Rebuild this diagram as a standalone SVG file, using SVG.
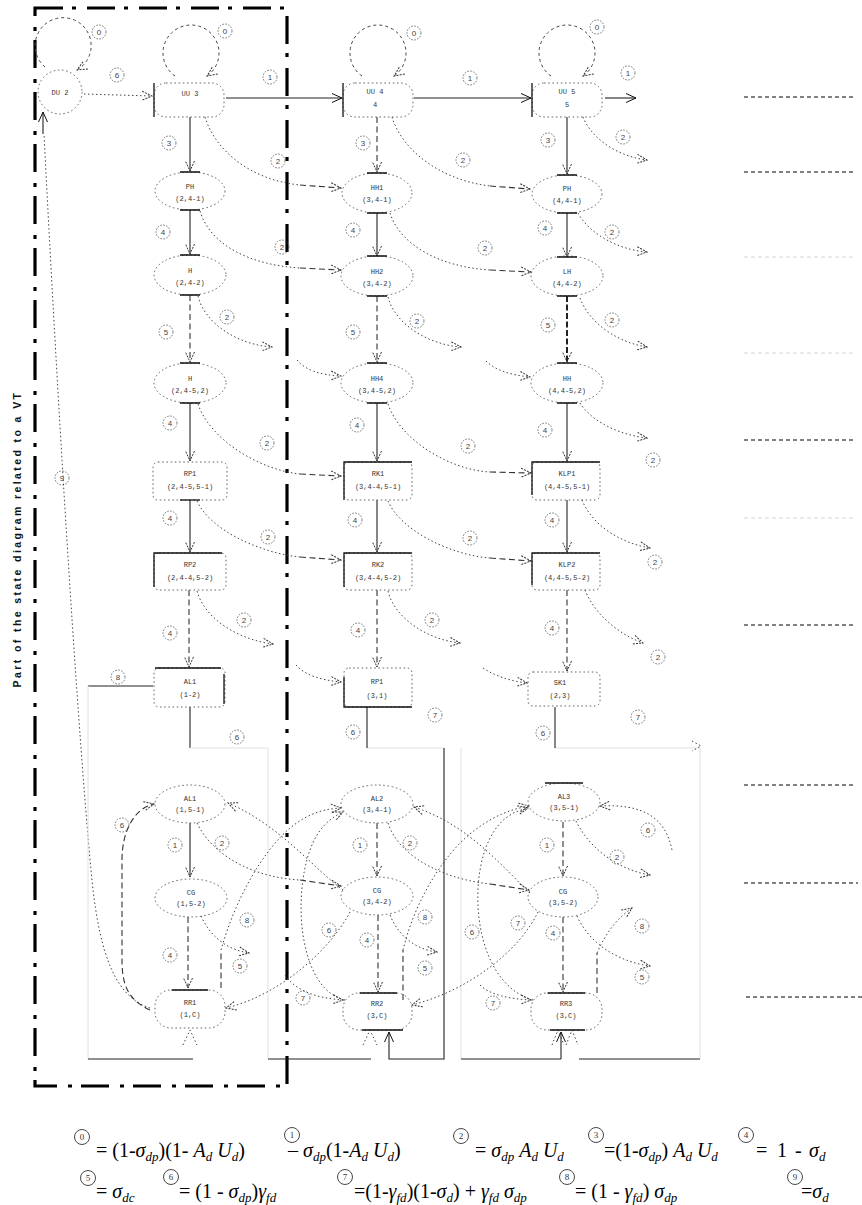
<svg xmlns="http://www.w3.org/2000/svg" width="862" height="1205" viewBox="0 0 862 1205">
<defs>
<style>
.nd{fill:none;stroke:#555;stroke-width:0.9;stroke-dasharray:1.6 2.6}
.bar{fill:none;stroke:#111;stroke-width:1.3}
.nt{font-family:"Liberation Mono",monospace;font-size:7px;fill:#333;text-anchor:middle}
.sl{fill:none;stroke:#222;stroke-width:1.1}
.dt{fill:none;stroke:#444;stroke-width:1;stroke-dasharray:1.5 2.5}
.ds{fill:none;stroke:#333;stroke-width:1.1;stroke-dasharray:6 3.5}
.dh{fill:none;stroke:#222;stroke-width:2;stroke-dasharray:6 2.5}
.dl{fill:none;stroke:#444;stroke-width:1;stroke-dasharray:3 3}
.gr{fill:none;stroke:#e0e0e0;stroke-width:1}
.lb circle{fill:none;stroke:#555;stroke-width:0.8;stroke-dasharray:1.6 1.4}
.lb text{font-family:"Liberation Sans",sans-serif;font-size:8px;fill:#444;text-anchor:middle}
.box{fill:none;stroke:#000;stroke-width:3.2;stroke-dasharray:28 9 4 11}
.rl{fill:none;stroke:#000;stroke-width:1;stroke-dasharray:4 3}
.rlg{fill:none;stroke:#d4d4d4;stroke-width:1;stroke-dasharray:4 3}
.vt{font-family:"Liberation Sans",sans-serif;font-weight:bold;font-size:10.5px;letter-spacing:2.4px;fill:#111;text-anchor:middle}
.fm{font-family:"Liberation Serif",serif;font-size:20px;fill:#000}
.it{font-style:italic}
.sb{font-size:13px;font-style:italic}
.fc circle{fill:none;stroke:#333;stroke-width:0.9}
.fc text{font-family:"Liberation Serif",serif;font-size:9px;fill:#333;text-anchor:middle}
</style>
<marker id="ad" viewBox="0 0 12 12" refX="11" refY="6" markerWidth="12" markerHeight="12" markerUnits="userSpaceOnUse" orient="auto"><path d="M1,1.5 L11,6 L1,10.5" fill="none" stroke="#333" stroke-width="1" stroke-dasharray="2 1.2"/></marker>
<marker id="as" viewBox="0 0 12 12" refX="11" refY="6" markerWidth="12" markerHeight="12" markerUnits="userSpaceOnUse" orient="auto"><path d="M1,1.5 L11,6 L1,10.5" fill="none" stroke="#111" stroke-width="1"/></marker>
</defs>
<rect width="862" height="1205" fill="#fff"/>

<!-- dash-dot boundary and vertical title -->
<g id="vt-region">
<rect class="box" x="35" y="8" width="252" height="1078"/>
<text class="vt" transform="translate(21,539) rotate(-90)">Part of the state diagram related to a VT</text>
</g>

<!-- right-side dashed rules -->
<g id="rules">
<path class="rl" d="M744,97 H855 M744,172 H855 M744,440 H855 M744,625 H855 M744,785 H855 M744,883 H858 M746,997 H862"/>
<path class="rlg" d="M744,257 H855 M744,353 H855 M744,518 H855"/>
</g>

<!-- connectors -->
<g id="connectors">
<!-- top row -->
<path class="dl" d="M45,67 A28,28 0 1,1 77,70" marker-end="url(#ad)"/>
<path class="dt" d="M84,94 L152,96" marker-end="url(#ad)"/>
<path class="dl" d="M175,76 A28,28 0 1,1 207,76" marker-end="url(#ad)"/>
<path class="dl" d="M362,76 A28,28 0 1,1 394,76" marker-end="url(#ad)"/>
<path class="dl" d="M551,76 A28,28 0 1,1 583,76" marker-end="url(#ad)"/>
<path class="sl" d="M226,98 H342" marker-end="url(#as)"/>
<path class="sl" d="M414,98 H531" marker-end="url(#as)"/>
<path class="sl" d="M605,98 H636" marker-end="url(#as)"/>
<!-- long return curve to DU 2 -->
<path class="dt" d="M150,1008 C118,998 100,960 92,880 C80,760 60,450 44,134"/>
<path class="sl" d="M43,134 L43,112" marker-end="url(#as)"/>

<!-- left column verticals -->
<path class="sl" d="M190,117 V171" marker-end="url(#ad)"/>
<path class="sl" d="M190,210 V254" marker-end="url(#ad)"/>
<path class="ds" d="M190,295 V362" marker-end="url(#ad)"/>
<path class="sl" d="M190,403 V461" marker-end="url(#ad)"/>
<path class="sl" d="M190,500 V552" marker-end="url(#ad)"/>
<path class="ds" d="M189,590 V667" marker-end="url(#ad)"/>
<!-- middle column verticals -->
<path class="ds" d="M377,117 V172" marker-end="url(#ad)"/>
<path class="sl" d="M377,213 V256" marker-end="url(#ad)"/>
<path class="ds" d="M377,296 V362" marker-end="url(#ad)"/>
<path class="sl" d="M377,403 V461" marker-end="url(#ad)"/>
<path class="sl" d="M377,500 V552" marker-end="url(#ad)"/>
<path class="ds" d="M377,590 V667" marker-end="url(#ad)"/>
<!-- right column verticals -->
<path class="sl" d="M567,117 V174" marker-end="url(#ad)"/>
<path class="sl" d="M567,213 V257" marker-end="url(#ad)"/>
<path class="dh" d="M567,296 V362" marker-end="url(#ad)"/>
<path class="sl" d="M567,403 V461" marker-end="url(#ad)"/>
<path class="sl" d="M567,500 V552" marker-end="url(#ad)"/>
<path class="ds" d="M567,590 V671" marker-end="url(#ad)"/>

<!-- left to middle diagonals -->
<path class="dt" d="M205,117 C215,150 250,180 300,185"/><path class="ds" d="M300,185 L341,188" marker-end="url(#ad)"/>
<path class="dt" d="M200,211 C210,245 250,265 300,268"/><path class="ds" d="M300,268 L341,270" marker-end="url(#ad)"/>
<path class="dt" d="M198,296 C205,325 240,345 272,347" marker-end="url(#ad)"/>
<path class="dt" d="M297,360 C305,370 320,375 341,376" marker-end="url(#ad)"/>
<path class="dt" d="M198,404 C210,440 260,470 300,474"/><path class="ds" d="M300,474 L341,476" marker-end="url(#ad)"/>
<path class="dt" d="M197,501 C210,530 260,553 300,557"/><path class="ds" d="M300,557 L341,560" marker-end="url(#ad)"/>
<path class="dt" d="M197,591 C205,620 240,640 273,644" marker-end="url(#ad)"/>
<path class="dt" d="M296,665 C305,675 320,680 341,682" marker-end="url(#ad)"/>
<!-- middle to right diagonals -->
<path class="dt" d="M392,117 C402,150 440,180 490,186"/><path class="ds" d="M490,186 L530,189" marker-end="url(#ad)"/>
<path class="dt" d="M390,213 C400,245 440,267 490,270"/><path class="ds" d="M490,270 L531,272" marker-end="url(#ad)"/>
<path class="dt" d="M388,297 C395,325 430,345 461,347" marker-end="url(#ad)"/>
<path class="dt" d="M486,361 C495,370 510,375 530,377" marker-end="url(#ad)"/>
<path class="dt" d="M388,404 C400,440 450,470 490,472"/><path class="ds" d="M490,472 L531,473" marker-end="url(#ad)"/>
<path class="dt" d="M388,501 C400,530 450,555 490,558"/><path class="ds" d="M490,558 L531,561" marker-end="url(#ad)"/>
<path class="dt" d="M388,591 C395,620 430,640 460,643" marker-end="url(#ad)"/>
<path class="dt" d="M483,668 C495,676 510,681 527,683" marker-end="url(#ad)"/>
<!-- right column outgoing -->
<path class="dt" d="M583,117 C592,140 620,157 647,160" marker-end="url(#ad)"/>
<path class="dt" d="M578,213 C590,235 620,250 647,252" marker-end="url(#ad)"/>
<path class="dt" d="M580,298 C590,325 620,343 647,347" marker-end="url(#ad)"/>
<path class="dt" d="M580,403 C592,422 620,435 647,438" marker-end="url(#ad)"/>
<path class="dt" d="M582,500 C592,525 620,543 650,548" marker-end="url(#ad)"/>
<path class="dt" d="M585,590 C595,615 620,635 643,643" marker-end="url(#ad)"/>

<!-- row 7 exits and bottom frame lines -->
<path class="sl" d="M88,686 H153"/>
<path class="sl" d="M190,707 V748"/>
<path class="gr" d="M190,748 H268 M88,686 V1059 M268,748 V1059 M367,748 H444 M461,748 V1059 M555,748 H700 M700,748 V1059"/>
<path class="sl" d="M367,707 V748"/>
<path class="sl" d="M444,748 V1059 H389 V1032" marker-end="url(#as)"/>
<path class="sl" d="M555,707 V748"/>
<path class="dt" d="M692,741 L701,746 L692,751"/>
<path class="sl" d="M88,1059 H193 M268,1059 H371 M461,1059 H561 M579,1059 H700"/>
<path class="sl" d="M561,1059 V1032" marker-end="url(#as)"/>
<path class="dt" d="M183,1045 L190,1030 L197,1045 M363,1045 L370,1030 L377,1045 M552,1045 L558,1030 L564,1045 M566,1045 L572,1030 L578,1045"/>

<!-- bottom section: left column -->
<path class="sl" d="M190,823 V877" marker-end="url(#ad)"/>
<path class="ds" d="M188,917 V988" marker-end="url(#ad)"/>
<path class="ds" d="M150,1010 C128,1000 122,985 122,960 L122,860 C122,830 135,808 154,804" marker-end="url(#ad)"/>
<path class="dt" d="M197,823 C215,860 260,878 300,880"/><path class="ds" d="M300,880 L341,886" marker-end="url(#ad)"/>
<path class="dt" d="M201,916 C212,940 230,950 249,953" marker-end="url(#ad)"/>
<path class="ds" d="M221,988 V950"/><path class="dt" d="M221,950 C235,900 262,852 290,828 C310,812 325,809 341,808" marker-end="url(#ad)"/>
<path class="dt" d="M343,890 C315,870 280,825 228,803" marker-end="url(#ad)"/>
<path class="dt" d="M350,912 C330,950 280,995 226,1008" marker-end="url(#ad)"/>
<!-- bottom section: middle column -->
<path class="ds" d="M377,823 V876" marker-end="url(#ad)"/>
<path class="ds" d="M378,915 V992" marker-end="url(#ad)"/>
<path class="dt" d="M345,1000 C300,990 292,900 310,850 C318,828 330,818 343,812" marker-end="url(#ad)"/>
<path class="dt" d="M285,975 C295,990 315,998 343,1000" marker-end="url(#ad)"/>
<path class="dt" d="M388,823 C400,860 450,880 490,884"/><path class="ds" d="M490,884 L529,890" marker-end="url(#ad)"/>
<path class="dt" d="M390,915 C400,940 420,950 437,952" marker-end="url(#ad)"/>
<path class="ds" d="M403,1000 V950"/><path class="dt" d="M403,950 C415,900 445,852 475,830 C495,815 512,809 529,806" marker-end="url(#ad)"/>
<path class="dt" d="M530,893 C505,870 470,825 414,807" marker-end="url(#ad)"/>
<path class="dt" d="M538,912 C520,950 470,990 412,1005" marker-end="url(#ad)"/>
<!-- bottom section: right column -->
<path class="ds" d="M563,822 V876" marker-end="url(#ad)"/>
<path class="ds" d="M563,917 V992" marker-end="url(#ad)"/>
<path class="dt" d="M533,1000 C480,985 468,900 485,850 C495,822 510,812 528,808" marker-end="url(#ad)"/>
<path class="dt" d="M480,985 C490,995 510,999 531,1000" marker-end="url(#ad)"/>
<path class="dt" d="M576,821 C590,850 620,870 650,875" marker-end="url(#ad)"/>
<path class="dt" d="M672,850 C665,815 640,804 600,806" marker-end="url(#ad)"/>
<path class="dt" d="M577,916 C590,945 620,962 650,966" marker-end="url(#ad)"/>
<path class="ds" d="M597,993 V953"/><path class="dt" d="M597,953 C605,935 615,920 632,908" marker-end="url(#ad)"/>

<!-- labels -->
<g class="lb" transform="translate(99,32)"><circle r="7"/><text y="3">0</text></g>
<g class="lb" transform="translate(117,75)"><circle r="7"/><text y="3">6</text></g>
<g class="lb" transform="translate(225,31)"><circle r="7"/><text y="3">0</text></g>
<g class="lb" transform="translate(414,33)"><circle r="7"/><text y="3">0</text></g>
<g class="lb" transform="translate(597,27)"><circle r="7"/><text y="3">0</text></g>
<g class="lb" transform="translate(270,77)"><circle r="7"/><text y="3">1</text></g>
<g class="lb" transform="translate(470,78)"><circle r="7"/><text y="3">1</text></g>
<g class="lb" transform="translate(628,73)"><circle r="7"/><text y="3">1</text></g>
<g class="lb" transform="translate(62,478)"><circle r="7"/><text y="3">9</text></g>

<g class="lb" transform="translate(169,143)"><circle r="7"/><text y="3">3</text></g>
<g class="lb" transform="translate(163,232)"><circle r="7"/><text y="3">4</text></g>
<g class="lb" transform="translate(166,332)"><circle r="7"/><text y="3">5</text></g>
<g class="lb" transform="translate(170,423)"><circle r="7"/><text y="3">4</text></g>
<g class="lb" transform="translate(170,518)"><circle r="7"/><text y="3">4</text></g>
<g class="lb" transform="translate(170,633)"><circle r="7"/><text y="3">4</text></g>

<g class="lb" transform="translate(363,143)"><circle r="7"/><text y="3">3</text></g>
<g class="lb" transform="translate(353,230)"><circle r="7"/><text y="3">4</text></g>
<g class="lb" transform="translate(353,332)"><circle r="7"/><text y="3">5</text></g>
<g class="lb" transform="translate(357,425)"><circle r="7"/><text y="3">4</text></g>
<g class="lb" transform="translate(355,520)"><circle r="7"/><text y="3">4</text></g>
<g class="lb" transform="translate(358,630)"><circle r="7"/><text y="3">4</text></g>

<g class="lb" transform="translate(548,140)"><circle r="7"/><text y="3">3</text></g>
<g class="lb" transform="translate(545,228)"><circle r="7"/><text y="3">4</text></g>
<g class="lb" transform="translate(548,325)"><circle r="7"/><text y="3">5</text></g>
<g class="lb" transform="translate(545,430)"><circle r="7"/><text y="3">4</text></g>
<g class="lb" transform="translate(552,520)"><circle r="7"/><text y="3">4</text></g>
<g class="lb" transform="translate(552,628)"><circle r="7"/><text y="3">4</text></g>

<g class="lb" transform="translate(278,161)"><circle r="7"/><text y="3">2</text></g>
<g class="lb" transform="translate(282,247)"><circle r="7"/><text y="3">2</text></g>
<g class="lb" transform="translate(227,317)"><circle r="7"/><text y="3">2</text></g>
<g class="lb" transform="translate(267,443)"><circle r="7"/><text y="3">2</text></g>
<g class="lb" transform="translate(268,537)"><circle r="7"/><text y="3">2</text></g>
<g class="lb" transform="translate(244,620)"><circle r="7"/><text y="3">2</text></g>
<g class="lb" transform="translate(463,160)"><circle r="7"/><text y="3">2</text></g>
<g class="lb" transform="translate(485,248)"><circle r="7"/><text y="3">2</text></g>
<g class="lb" transform="translate(417,321)"><circle r="7"/><text y="3">2</text></g>
<g class="lb" transform="translate(468,446)"><circle r="7"/><text y="3">2</text></g>
<g class="lb" transform="translate(470,538)"><circle r="7"/><text y="3">2</text></g>
<g class="lb" transform="translate(432,620)"><circle r="7"/><text y="3">2</text></g>
<g class="lb" transform="translate(623,137)"><circle r="7"/><text y="3">2</text></g>
<g class="lb" transform="translate(612,232)"><circle r="7"/><text y="3">2</text></g>
<g class="lb" transform="translate(612,320)"><circle r="7"/><text y="3">2</text></g>
<g class="lb" transform="translate(653,460)"><circle r="7"/><text y="3">2</text></g>
<g class="lb" transform="translate(655,562)"><circle r="7"/><text y="3">2</text></g>
<g class="lb" transform="translate(658,657)"><circle r="7"/><text y="3">2</text></g>

<g class="lb" transform="translate(118,677)"><circle r="7"/><text y="3">8</text></g>
<g class="lb" transform="translate(237,737)"><circle r="7"/><text y="3">6</text></g>
<g class="lb" transform="translate(353,732)"><circle r="7"/><text y="3">6</text></g>
<g class="lb" transform="translate(435,715)"><circle r="7"/><text y="3">7</text></g>
<g class="lb" transform="translate(543,733)"><circle r="7"/><text y="3">6</text></g>
<g class="lb" transform="translate(638,717)"><circle r="7"/><text y="3">7</text></g>

<g class="lb" transform="translate(122,825)"><circle r="7"/><text y="3">6</text></g>
<g class="lb" transform="translate(175,845)"><circle r="7"/><text y="3">1</text></g>
<g class="lb" transform="translate(222,843)"><circle r="7"/><text y="3">2</text></g>
<g class="lb" transform="translate(247,920)"><circle r="7"/><text y="3">8</text></g>
<g class="lb" transform="translate(240,966)"><circle r="7"/><text y="3">5</text></g>
<g class="lb" transform="translate(170,955)"><circle r="7"/><text y="3">4</text></g>
<g class="lb" transform="translate(360,845)"><circle r="7"/><text y="3">1</text></g>
<g class="lb" transform="translate(410,843)"><circle r="7"/><text y="3">2</text></g>
<g class="lb" transform="translate(329,930)"><circle r="7"/><text y="3">6</text></g>
<g class="lb" transform="translate(367,940)"><circle r="7"/><text y="3">4</text></g>
<g class="lb" transform="translate(425,917)"><circle r="7"/><text y="3">8</text></g>
<g class="lb" transform="translate(425,968)"><circle r="7"/><text y="3">5</text></g>
<g class="lb" transform="translate(303,998)"><circle r="7"/><text y="3">7</text></g>
<g class="lb" transform="translate(547,845)"><circle r="7"/><text y="3">1</text></g>
<g class="lb" transform="translate(472,932)"><circle r="7"/><text y="3">6</text></g>
<g class="lb" transform="translate(518,923)"><circle r="7"/><text y="3">7</text></g>
<g class="lb" transform="translate(553,933)"><circle r="7"/><text y="3">4</text></g>
<g class="lb" transform="translate(493,1003)"><circle r="7"/><text y="3">7</text></g>
<g class="lb" transform="translate(617,857)"><circle r="7"/><text y="3">2</text></g>
<g class="lb" transform="translate(648,830)"><circle r="7"/><text y="3">6</text></g>
<g class="lb" transform="translate(642,926)"><circle r="7"/><text y="3">8</text></g>
<g class="lb" transform="translate(642,977)"><circle r="7"/><text y="3">5</text></g>
</g>

<!-- nodes: top row -->
<g id="n-du2"><circle class="nd" cx="60" cy="92" r="22"/><text class="nt" x="60" y="95">DU 2</text></g>
<g id="n-uu3"><rect class="nd" x="154" y="83" width="70" height="34" rx="12"/><path class="bar" d="M154,83 V117"/><text class="nt" x="190" y="96">UU 3</text></g>
<g id="n-uu4"><rect class="nd" x="343" y="83" width="70" height="34" rx="12"/><path class="bar" d="M343,83 V117"/><text class="nt" x="375" y="94">UU 4</text><text class="nt" x="375" y="107">4</text></g>
<g id="n-uu5"><rect class="nd" x="532" y="83" width="70" height="34" rx="12"/><path class="bar" d="M532,83 V117"/><text class="nt" x="567" y="94">UU 5</text><text class="nt" x="567" y="107">5</text></g>

<!-- row 2 -->
<g id="n-r2l"><ellipse class="nd" cx="190" cy="191" rx="35" ry="19"/><path class="bar" d="M180,172 H200 M180,210 H200"/><text class="nt" x="190" y="189">PH</text><text class="nt" x="190" y="201">(2,4-1)</text></g>
<g id="n-r2m"><ellipse class="nd" cx="377" cy="193" rx="35" ry="20"/><path class="bar" d="M367,173 H387 M367,213 H387"/><text class="nt" x="377" y="190">HH1</text><text class="nt" x="377" y="202">(3,4-1)</text></g>
<g id="n-r2r"><ellipse class="nd" cx="567" cy="194" rx="35" ry="19"/><path class="bar" d="M557,175 H577 M557,213 H577"/><text class="nt" x="567" y="191">PH</text><text class="nt" x="567" y="203">(4,4-1)</text></g>
<!-- row 3 -->
<g id="n-r3l"><ellipse class="nd" cx="190" cy="275" rx="36" ry="20"/><path class="bar" d="M180,255 H200 M180,295 H200"/><text class="nt" x="190" y="273">H</text><text class="nt" x="190" y="285">(2,4-2)</text></g>
<g id="n-r3m"><ellipse class="nd" cx="377" cy="276" rx="36" ry="20"/><path class="bar" d="M367,256 H387 M367,296 H387"/><text class="nt" x="377" y="274">HH2</text><text class="nt" x="377" y="286">(3,4-2)</text></g>
<g id="n-r3r"><ellipse class="nd" cx="567" cy="276" rx="36" ry="20"/><path class="bar" d="M557,257 H577 M557,296 H577"/><text class="nt" x="567" y="274">LH</text><text class="nt" x="567" y="286">(4,4-2)</text></g>
<!-- row 4 -->
<g id="n-r4l"><ellipse class="nd" cx="190" cy="383" rx="36" ry="20"/><path class="bar" d="M180,363 H200 M180,403 H200"/><text class="nt" x="190" y="381">H</text><text class="nt" x="190" y="393">(2,4-5,2)</text></g>
<g id="n-r4m"><ellipse class="nd" cx="377" cy="383" rx="36" ry="20"/><path class="bar" d="M367,363 H387 M367,403 H387"/><text class="nt" x="377" y="381">HH4</text><text class="nt" x="377" y="393">(3,4-5,2)</text></g>
<g id="n-r4r"><ellipse class="nd" cx="567" cy="383" rx="36" ry="20"/><path class="bar" d="M557,363 H577 M557,403 H577"/><text class="nt" x="567" y="381">HH</text><text class="nt" x="567" y="393">(4,4-5,2)</text></g>
<!-- row 5 -->
<g id="n-r5l"><rect class="nd" x="153" y="462" width="74" height="38" rx="5"/><path class="bar" d="M180,500 H200"/><text class="nt" x="190" y="476">RP1</text><text class="nt" x="190" y="489">(2,4-5,5-1)</text></g>
<g id="n-r5m"><rect class="nd" x="344" y="462" width="68" height="38" rx="5"/><path class="bar" d="M344,500 V462 H412"/><text class="nt" x="378" y="476">RK1</text><text class="nt" x="378" y="489">(3,4-4,5-1)</text></g>
<g id="n-r5r"><rect class="nd" x="532" y="462" width="68" height="38" rx="5"/><path class="bar" d="M532,495 V462 H600"/><text class="nt" x="567" y="476">KLP1</text><text class="nt" x="567" y="489">(4,4-5,5-1)</text></g>
<!-- row 6 -->
<g id="n-r6l"><rect class="nd" x="154" y="553" width="72" height="37" rx="5"/><path class="bar" d="M154,587 V553 H222"/><text class="nt" x="190" y="567">RP2</text><text class="nt" x="190" y="580">(2,4-4,5-2)</text></g>
<g id="n-r6m"><rect class="nd" x="344" y="553" width="68" height="37" rx="5"/><path class="bar" d="M344,587 V553 H412"/><text class="nt" x="378" y="567">RK2</text><text class="nt" x="378" y="580">(3,4-4,5-2)</text></g>
<g id="n-r6r"><rect class="nd" x="532" y="553" width="68" height="37" rx="5"/><path class="bar" d="M532,585 V553 H600"/><text class="nt" x="567" y="567">KLP2</text><text class="nt" x="567" y="580">(4,4-5,5-2)</text></g>
<!-- row 7 -->
<g id="n-r7l"><rect class="nd" x="154" y="668" width="71" height="39" rx="5"/><path class="bar" d="M155,668 H221 M224,674 V704"/><text class="nt" x="190" y="684">AL1</text><text class="nt" x="190" y="697">(1-2)</text></g>
<g id="n-r7m"><rect class="nd" x="344" y="668" width="68" height="39" rx="5"/><path class="bar" d="M344,677 V707 H412"/><text class="nt" x="377" y="684">RP1</text><text class="nt" x="377" y="698">(3,1)</text></g>
<g id="n-r7r"><rect class="nd" x="528" y="672" width="72" height="34" rx="5"/><text class="nt" x="560" y="685">SK1</text><text class="nt" x="560" y="698">(2,3)</text></g>
<!-- row 8 -->
<g id="n-r8l"><ellipse class="nd" cx="190" cy="804" rx="35" ry="19"/><text class="nt" x="190" y="801">AL1</text><text class="nt" x="190" y="812">(1,5-1)</text></g>
<g id="n-r8m"><ellipse class="nd" cx="377" cy="804" rx="36" ry="19"/><text class="nt" x="377" y="801">AL2</text><text class="nt" x="377" y="812">(3,4-1)</text></g>
<g id="n-r8r"><ellipse class="nd" cx="564" cy="802" rx="36" ry="19"/><path class="bar" d="M545,783 H583"/><text class="nt" x="564" y="799">AL3</text><text class="nt" x="564" y="810">(3,5-1)</text></g>
<!-- row 9 -->
<g id="n-r9l"><ellipse class="nd" cx="191" cy="898" rx="36" ry="19"/><text class="nt" x="191" y="895">CG</text><text class="nt" x="191" y="906">(1,5-2)</text></g>
<g id="n-r9m"><ellipse class="nd" cx="377" cy="896" rx="36" ry="19"/><text class="nt" x="377" y="893">CG</text><text class="nt" x="377" y="904">(3,4-2)</text></g>
<g id="n-r9r"><ellipse class="nd" cx="563" cy="897" rx="35" ry="20"/><text class="nt" x="563" y="894">CG</text><text class="nt" x="563" y="905">(3,5-2)</text></g>
<!-- row 10 -->
<g id="n-r10l"><rect class="nd" x="155" y="990" width="70" height="38" rx="16"/><path class="bar" d="M172,990 H208"/><text class="nt" x="190" y="1005">RR1</text><text class="nt" x="190" y="1017">(1,C)</text></g>
<g id="n-r10m"><rect class="nd" x="343" y="993" width="69" height="37" rx="16"/><path class="bar" d="M360,993 H397 M362,1030 H403"/><text class="nt" x="377" y="1006">RR2</text><text class="nt" x="377" y="1018">(3,C)</text></g>
<g id="n-r10r"><rect class="nd" x="531" y="993" width="71" height="37" rx="16"/><path class="bar" d="M548,993 H585 M550,1030 H585"/><text class="nt" x="566" y="1006">RR3</text><text class="nt" x="566" y="1018">(3,C)</text></g>

<!-- formulas -->
<g id="formulas">
<g class="fc"><circle cx="82" cy="1137" r="7.5"/><text x="82" y="1140">0</text></g>
<text class="fm" x="96" y="1157">= (1-<tspan class="it">σ</tspan><tspan class="sb" dy="4">dp</tspan><tspan dy="-4">)(1- </tspan><tspan class="it">A</tspan><tspan class="sb" dy="4">d</tspan><tspan dy="-4"> </tspan><tspan class="it">U</tspan><tspan class="sb" dy="4">d</tspan><tspan dy="-4">)</tspan></text>
<g class="fc"><circle cx="292" cy="1135" r="7.5"/><text x="292" y="1138">1</text></g>
<text class="fm" x="288" y="1157">– <tspan class="it">σ</tspan><tspan class="sb" dy="4">dp</tspan><tspan dy="-4">(1-</tspan><tspan class="it">A</tspan><tspan class="sb" dy="4">d</tspan><tspan dy="-4"> </tspan><tspan class="it">U</tspan><tspan class="sb" dy="4">d</tspan><tspan dy="-4">)</tspan></text>
<g class="fc"><circle cx="461" cy="1136" r="7.5"/><text x="461" y="1139">2</text></g>
<text class="fm" x="475" y="1157">= <tspan class="it">σ</tspan><tspan class="sb" dy="4">dp</tspan><tspan dy="-4"> </tspan><tspan class="it">A</tspan><tspan class="sb" dy="4">d</tspan><tspan dy="-4"> </tspan><tspan class="it">U</tspan><tspan class="sb" dy="4">d</tspan></text>
<g class="fc"><circle cx="596" cy="1135" r="7.5"/><text x="596" y="1138">3</text></g>
<text class="fm" x="604" y="1157">=(1-<tspan class="it">σ</tspan><tspan class="sb" dy="4">dp</tspan><tspan dy="-4">) </tspan><tspan class="it">A</tspan><tspan class="sb" dy="4">d</tspan><tspan dy="-4"> </tspan><tspan class="it">U</tspan><tspan class="sb" dy="4">d</tspan></text>
<g class="fc"><circle cx="746" cy="1135" r="7.5"/><text x="746" y="1138">4</text></g>
<text class="fm" x="756" y="1157">= <tspan x="777">1</tspan><tspan x="795">-</tspan><tspan class="it" x="809">σ</tspan><tspan class="sb" dy="4">d</tspan></text>

<g class="fc"><circle cx="88" cy="1178" r="7.5"/><text x="88" y="1181">5</text></g>
<text class="fm" x="96" y="1198">= <tspan class="it">σ</tspan><tspan class="sb" dy="4">dc</tspan></text>
<g class="fc"><circle cx="171" cy="1177" r="7.5"/><text x="171" y="1180">6</text></g>
<text class="fm" x="179" y="1198">= (1 - <tspan class="it">σ</tspan><tspan class="sb" dy="4">dp</tspan><tspan dy="-4">)</tspan><tspan class="it">γ</tspan><tspan class="sb" dy="4">fd</tspan></text>
<g class="fc"><circle cx="345" cy="1177" r="7.5"/><text x="345" y="1180">7</text></g>
<text class="fm" x="354" y="1198">=(1-<tspan class="it">γ</tspan><tspan class="sb" dy="4">fd</tspan><tspan dy="-4">)(1-</tspan><tspan class="it">σ</tspan><tspan class="sb" dy="4">d</tspan><tspan dy="-4">) + </tspan><tspan class="it">γ</tspan><tspan class="sb" dy="4">fd</tspan><tspan dy="-4"> </tspan><tspan class="it">σ</tspan><tspan class="sb" dy="4">dp</tspan></text>
<g class="fc"><circle cx="567" cy="1177" r="7.5"/><text x="567" y="1180">8</text></g>
<text class="fm" x="575" y="1198">= (1 - <tspan class="it">γ</tspan><tspan class="sb" dy="4">fd</tspan><tspan dy="-4">) </tspan><tspan class="it">σ</tspan><tspan class="sb" dy="4">dp</tspan></text>
<g class="fc"><circle cx="795" cy="1177" r="7.5"/><text x="795" y="1180">9</text></g>
<text class="fm" x="801" y="1198">=<tspan class="it">σ</tspan><tspan class="sb" dy="4">d</tspan></text>
</g>
</svg>
